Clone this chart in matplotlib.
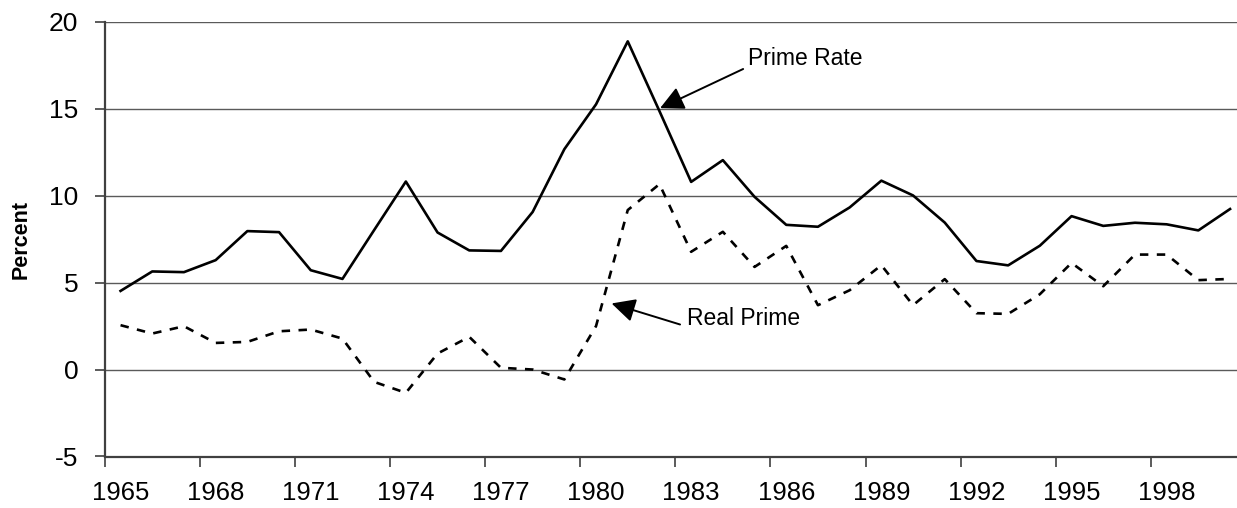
import numpy as np
from matplotlib import pyplot as plt


years = list(range(1965, 2001))

prime_rate = [
    4.52, 5.64, 5.60, 6.29, 7.96, 7.90, 5.71, 5.21, 8.02, 10.81,
    7.88, 6.85, 6.82, 9.06, 12.67, 15.25, 18.87, 14.86, 10.79, 12.04,
    9.93, 8.32, 8.21, 9.32, 10.86, 10.01, 8.45, 6.24, 5.99, 7.12,
    8.82, 8.26, 8.44, 8.35, 8.00, 9.23,
]

real_prime = [
    2.55, 2.07, 2.49, 1.53, 1.59, 2.20, 2.30, 1.78, -0.71, -1.34,
    0.92, 1.88, 0.10, 0.00, -0.57, 2.50, 9.17, 10.66, 6.77, 7.92,
    5.90, 7.11, 3.70, 4.56, 6.00, 3.70, 5.20, 3.24, 3.20, 4.33,
    6.13, 4.79, 6.61, 6.61, 5.14, 5.21,
]

y_ticks = [-5, 0, 5, 10, 15, 20]
x_label_years = list(range(1965, 2000, 3))


def main():
    plt.rcParams["font.family"] = ["Liberation Sans", "DejaVu Sans"]

    fig = plt.figure(figsize=(12.37, 5.08), dpi=100)
    left = 104.7 / 1237
    bottom = 1 - 456.5 / 508
    height = (456.5 - 21.7) / 508
    ax = fig.add_axes([left, bottom, 1 - left, height])
    ax_width_px = 1237 - 104.7

    # horizontal grid, including the top line at 20
    for yv in y_ticks[1:]:
        ax.axhline(yv, color="#5a5a5a", lw=1.0, zorder=1)

    ax.plot(years, prime_rate, color="black", lw=1.9, zorder=3)
    ax.plot(years, real_prime, color="black", lw=1.9,
            linestyle=(0, (3.2, 3.2)), zorder=3)

    px_per_year = 31.7
    ax.set_xlim(1964.5, 1964.5 + ax_width_px / px_per_year)
    ax.set_ylim(-5, 20)

    # ticks between categories, labels at category centres
    ax.set_xticks([y - 0.5 for y in x_label_years])
    ax.set_xticklabels([])
    ax.set_xticks(x_label_years, minor=True)
    ax.set_xticklabels([str(y) for y in x_label_years], minor=True)
    ax.tick_params(axis="x", which="major", length=7, width=1.2,
                   color="#404040", direction="out")
    ax.tick_params(axis="x", which="minor", length=0, pad=18,
                   labelsize=18.5)

    ax.set_yticks(y_ticks)
    ax.set_yticklabels([str(v) for v in y_ticks])
    ax.tick_params(axis="y", length=7, width=1.2, color="#404040",
                   direction="out", pad=12, labelsize=19)

    for side in ["top", "right"]:
        ax.spines[side].set_visible(False)
    for side in ["left", "bottom"]:
        ax.spines[side].set_color("#404040")
        ax.spines[side].set_linewidth(1.6)

    ax.set_ylabel("Percent", fontsize=15.5, fontweight="bold")
    ax.yaxis.set_label_coords((32 - 104.7) / ax_width_px, 0.5)

    arrow = dict(arrowstyle="-|>", color="black", lw=1.4,
                 mutation_scale=36, shrinkA=0, shrinkB=0)
    ax.annotate("", xy=(1982.02, 15.03), xytext=(1984.64, 17.28),
                arrowprops=arrow, zorder=4)
    ax.text(1984.79, 17.91, "Prime Rate", fontsize=16.5, va="center",
            ha="left")
    ax.annotate("", xy=(1980.49, 3.8), xytext=(1982.65, 2.59),
                arrowprops=arrow, zorder=4)
    ax.text(1982.86, 2.95, "Real Prime", fontsize=16.5, va="center",
            ha="left")

    fig.savefig("out.png", dpi=100)


if __name__ == "__main__":
    main()
